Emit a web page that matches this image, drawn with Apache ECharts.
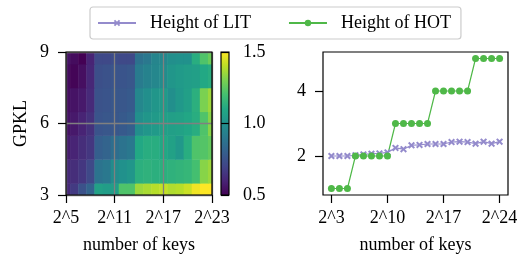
<!DOCTYPE html>
<html><head><meta charset="utf-8">
<script src="https://cdn.jsdelivr.net/npm/echarts@6/dist/echarts.min.js"></script>
<style>html,body{margin:0;padding:0;background:#fff}#c{width:523px;height:261px}</style>
</head><body><div id="c"></div>
<script>
// ---------- data ----------
const keyExponents = [5,6,7,8,9,10,11,12,13,14,15,16,17,18,19,20,21,22,23];
const gpklValues = [3,4,5,6,7,8,9];
const ratioGPKL3 = [0.62,0.67,0.75,0.82,1.07,1.05,1.05,1.22,1.22,1.35,1.37,1.39,1.41,1.38,1.39,1.42,1.48,1.50,1.50];
const ratioGPKL4 = [0.62,0.63,0.66,0.72,0.88,0.90,0.98,1.00,1.02,1.13,1.14,1.13,1.13,1.14,1.15,1.16,1.20,1.32,1.35];
const ratioGPKL5 = [0.58,0.60,0.63,0.66,0.80,0.82,0.86,0.88,0.90,1.10,1.12,1.12,1.10,1.07,1.03,1.12,1.22,1.23,1.26];
const ratioGPKL6 = [0.55,0.57,0.60,0.64,0.76,0.77,0.77,0.78,0.80,0.99,1.02,1.04,1.06,1.06,1.07,1.09,1.12,1.22,1.32];
const ratioGPKL7 = [0.54,0.55,0.57,0.62,0.75,0.76,0.77,0.77,0.78,0.96,0.99,1.02,1.04,0.99,1.03,1.06,1.13,1.30,1.35];
const ratioGPKL8 = [0.53,0.51,0.54,0.61,0.74,0.75,0.76,0.76,0.77,0.91,0.94,0.96,0.98,1.02,1.04,1.05,1.06,1.10,1.12];
const ratioGPKL9 = [0.55,0.53,0.50,0.60,0.72,0.72,0.73,0.72,0.72,0.87,0.90,0.95,0.96,0.99,1.00,1.00,1.12,1.22,1.27];
const heatRows = [ratioGPKL3, ratioGPKL4, ratioGPKL5, ratioGPKL6, ratioGPKL7, ratioGPKL8, ratioGPKL9];
const heatXTicks = [5, 11, 17, 23];
const heatYTicks = [3, 6, 9];
const colorbarTicks = [0.5, 1.0, 1.5];

const lineExponents = [3,4,5,6,7,8,9,10,11,12,13,14,15,16,17,18,19,20,21,22,23,24];
const litHeight = [2.0,2.0,2.0,2.02,2.05,2.07,2.08,2.11,2.25,2.21,2.33,2.34,2.37,2.37,2.37,2.43,2.44,2.43,2.38,2.44,2.38,2.44];
const hotHeight = [1,1,1,2,2,2,2,2,3,3,3,3,3,4,4,4,4,4,5,5,5,5];
const lineXTicks = [3, 10, 17, 24];
const lineYTicks = [2, 4];

// ---------- styling ----------
const FONT = 'Liberation Serif';
const viridis = ['#440154','#482475','#414487','#355f8d','#2a788e','#21918c','#22a884','#44bf70','#7ad151','#bddf26','#fde725'];
const HX = [5, 23], HY = [3, 9], CB = [0.5, 1.5];
const txt = {fontFamily: FONT, fontSize: 18, color: '#000'};

const heatData = [];
gpklValues.forEach((g, r) => keyExponents.forEach((e, c) => heatData.push([e, g, heatRows[r][c]])));

function axisCommon(ticks, extra) {
  return Object.assign({
    type: 'value', z: 11,
    axisLine: {show: false},
    axisTick: {show: true, customValues: ticks, length: 8, lineStyle: {color: '#000', width: 1.2}},
    axisLabel: Object.assign({customValues: ticks, margin: 14}, txt),
    splitLine: {show: false}
  }, extra);
}

const chart = echarts.init(document.getElementById('c'), null, {renderer: 'canvas'});
chart.setOption({
  animation: false,
  backgroundColor: '#fff',
  legend: {
    left: 90, top: 7, padding: [7, 10, 7, 7],
    itemWidth: 38, itemHeight: 8, itemGap: 37,
    borderColor: '#cccccc', borderWidth: 1.2, borderRadius: 3,
    textStyle: Object.assign({padding: [0, 0, 0, 9]}, txt),
    data: ['Height of LIT', 'Height of HOT']
  },
  grid: [
    {left: 66, top: 52, width: 146, height: 143, show: true, z: 12, backgroundColor: 'transparent', borderColor: '#000', borderWidth: 1.2},
    {left: 323, top: 52, width: 185, height: 143, show: true, z: 12, backgroundColor: 'transparent', borderColor: '#000', borderWidth: 1.2},
    {left: 221, top: 52, width: 8, height: 143, show: false}
  ],
  visualMap: {
    show: false, type: 'continuous', seriesIndex: 0, dimension: 2,
    min: CB[0], max: CB[1], inRange: {color: viridis}
  },
  xAxis: [
    axisCommon(heatXTicks, {gridIndex: 0, min: HX[0], max: HX[1],
      axisLabel: Object.assign({customValues: heatXTicks, margin: 14, formatter: v => '2^' + v}, txt),
      splitLine: {show: true, lineStyle: {color: '#808080', width: 1.3}},
      name: 'number of keys', nameLocation: 'middle', nameGap: 41, nameTextStyle: txt}),
    axisCommon(lineXTicks, {gridIndex: 1, min: 1.95, max: 25.05,
      axisLabel: Object.assign({customValues: lineXTicks, margin: 14, formatter: v => '2^' + v}, txt),
      name: 'number of keys', nameLocation: 'middle', nameGap: 41, nameTextStyle: txt}),
    {type: 'value', gridIndex: 2, min: 0, max: 1, show: false}
  ],
  yAxis: [
    axisCommon(heatYTicks, {gridIndex: 0, min: HY[0], max: HY[1],
      axisLabel: Object.assign({customValues: heatYTicks, margin: 17}, txt),
      splitLine: {show: true, lineStyle: {color: '#808080', width: 1.3}},
      name: 'GPKL', nameLocation: 'middle', nameGap: 36, nameRotate: 90, nameTextStyle: txt}),
    axisCommon(lineYTicks, {gridIndex: 1, min: 0.8, max: 5.2,
      axisLabel: Object.assign({customValues: lineYTicks, margin: 17}, txt)}),
    axisCommon(colorbarTicks, {gridIndex: 2, min: CB[0], max: CB[1], position: 'right',
      axisLabel: Object.assign({customValues: colorbarTicks, margin: 14, formatter: v => v.toFixed(1)}, txt)})
  ],
  series: [
    {
      type: 'custom', xAxisIndex: 0, yAxisIndex: 0, data: heatData,
      renderItem: function (params, api) {
        const x = api.value(0), y = api.value(1);
        const p0 = api.coord([Math.max(HX[0], x - 0.5), Math.min(HY[1], y + 0.5)]);
        const p1 = api.coord([Math.min(HX[1], x + 0.5), Math.max(HY[0], y - 0.5)]);
        return {type: 'rect', shape: {x: p0[0], y: p0[1], width: p1[0] - p0[0] + 0.5, height: p1[1] - p0[1] + 0.5},
          style: {fill: api.visual('color')}};
      }
    },
    {
      type: 'custom', xAxisIndex: 2, yAxisIndex: 2, data: [[0, CB[0], CB[1]]],
      renderItem: function (params, api) {
        const p0 = api.coord([0, api.value(2)]);
        const p1 = api.coord([1, api.value(1)]);
        const stops = viridis.map((c, i) => ({offset: 1 - i / (viridis.length - 1), color: c}));
        return {type: 'rect', shape: {x: p0[0], y: p0[1], width: p1[0] - p0[0], height: p1[1] - p0[1]},
          style: {fill: new echarts.graphic.LinearGradient(0, 0, 0, 1, stops.reverse()), stroke: '#000', lineWidth: 1.2}};
      }
    },
    {
      name: 'Height of LIT', type: 'line', xAxisIndex: 1, yAxisIndex: 1,
      data: lineExponents.map((e, i) => [e, litHeight[i]]),
      symbol: 'path://M0,2 L2,0 L5,3 L8,0 L10,2 L7,5 L10,8 L8,10 L5,7 L2,10 L0,8 L3,5 Z',
      symbolSize: 7, color: '#948bcc', lineStyle: {width: 1.2}, itemStyle: {color: '#948bcc'}
    },
    {
      name: 'Height of HOT', type: 'line', xAxisIndex: 1, yAxisIndex: 1,
      data: lineExponents.map((e, i) => [e, hotHeight[i]]),
      symbol: 'circle', symbolSize: 7, color: '#4fb848', lineStyle: {width: 1.2}, itemStyle: {color: '#4fb848'}
    }
  ]
});
</script></body></html>
